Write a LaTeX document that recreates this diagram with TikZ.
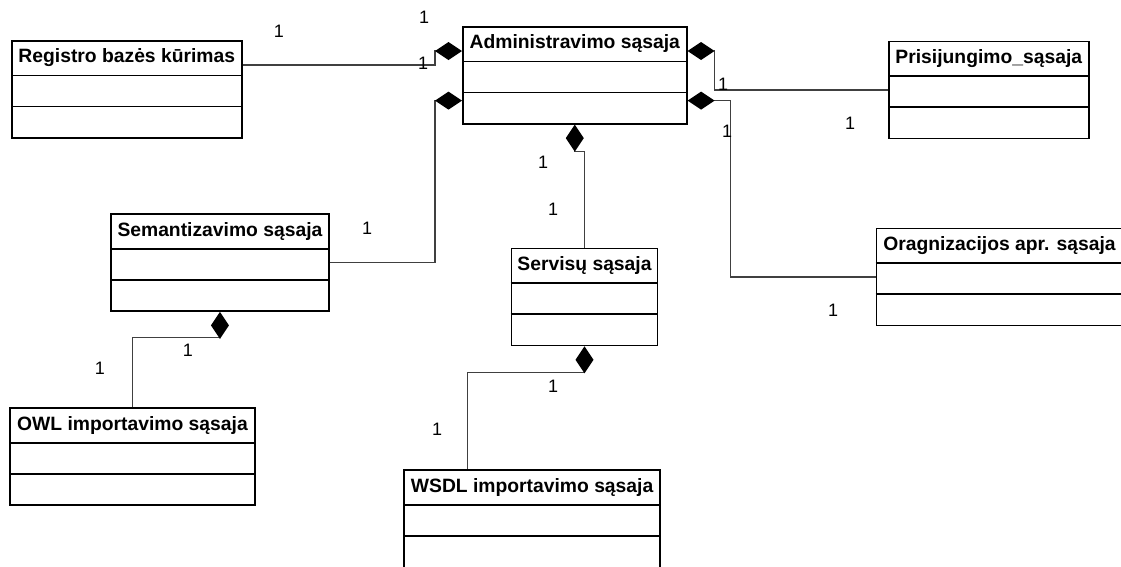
\documentclass[tikz,border=0pt]{standalone}
\usepackage{fontspec}
\setmainfont{Liberation Sans}
\usetikzlibrary{arrows.meta}

% class box: #1 extra options, #2 name, #3 x, #4 y (top-left), #5 width, #6 title
\newcommand\umlclass[6][]{%
  \node[cls, minimum width=#5pt, #1] (#2) at (#3,#4) {};
  \node[ttl] (#2-title) at ([yshift=-18pt]#2.north) {#6};
  \draw[sep] ([yshift=-35.5pt]#2.north west) -- ([yshift=-35.5pt]#2.north east);
  \draw[sep] ([yshift=-66.5pt]#2.north west) -- ([yshift=-66.5pt]#2.north east);
}

\begin{document}
\begin{tikzpicture}[x=1pt,y=-1pt,
  cls/.style={draw=black, line width=1.6pt, minimum height=97pt, anchor=north west, inner sep=0pt},
  ttl/.style={font=\bfseries\fontsize{19.3}{21}\selectfont, inner sep=0pt},
  mult/.style={font=\fontsize{18}{20}\selectfont, inner sep=0pt, text height=12.9pt, text depth=0pt},
  sep/.style={draw=black, line width=1.6pt},
  comp/.style={draw=black!75, line width=1.1pt,
    {Diamond[length=27pt,width=18pt,color=black,fill=black,line width=0pt]}-}
]
\useasboundingbox (0,0) rectangle (1121,566);

% classes
\umlclass{reg}{11}{40}{230}{Registro bazės kūrimas}
\umlclass{admin}{462}{26}{224}{Administravimo sąsaja}
\umlclass{pris}{888}{40.7}{200}{Prisijungimo\_sąsaja}
\umlclass{org}{875.7}{227.7}{246}{Oragnizacijos apr. sąsaja}
\umlclass{sem}{110}{213.3}{218.3}{Semantizavimo sąsaja}
\umlclass{serv}{510.7}{247.7}{146}{Servisų sąsaja}
\umlclass{owl}{9.3}{407.3}{244.7}{OWL importavimo sąsaja}
\umlclass[minimum height=99pt]{wsdl}{403.3}{469.3}{256}{WSDL importavimo sąsaja}

% compositions
\draw[comp] ([yshift=-25pt]admin.north west) -- ++(-27,0) |- ([yshift=-25pt]reg.north east);
\draw[comp] ([yshift=24pt]admin.south west) -- ++(-27,0) |- (sem.east);
\draw[comp] ([yshift=-25pt]admin.north east) -- ++(27,0) |- (pris.west);
\draw[comp] ([yshift=24pt]admin.south east) -- ++(43,0) |- (org.west);
\draw[comp] (admin.south) -- ++(0,27) -| (serv.north);
\draw[comp] (serv.south) -- ++(0,26) -| ([xshift=64pt]wsdl.north west);
\draw[comp] (sem.south) -- ++(0,26) -| (owl.north);

% multiplicities
\node[mult] (m1) at (279,31) {1};
\node[mult] (m2) at (424,17) {1};
\node[mult] (m3) at (423,63) {1};
\node[mult] (m4) at (723,84) {1};
\node[mult] (m5) at (727,131) {1};
\node[mult] (m6) at (850,123) {1};
\node[mult] (m7) at (543,162) {1};
\node[mult] (m8) at (553,209) {1};
\node[mult] (m9) at (367,228) {1};
\node[mult] (m10) at (188,350) {1};
\node[mult] (m11) at (100,368) {1};
\node[mult] (m12) at (553,386) {1};
\node[mult] (m13) at (437,429) {1};
\node[mult] (m14) at (833,310) {1};
\end{tikzpicture}
\end{document}
